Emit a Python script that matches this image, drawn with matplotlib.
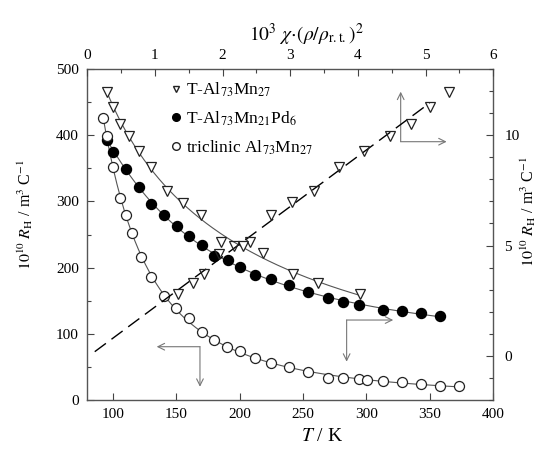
import numpy as np
import matplotlib.pyplot as plt
from matplotlib.lines import Line2D
from matplotlib.ticker import MultipleLocator

plt.rcParams['font.family'] = ['Liberation Serif', 'DejaVu Serif']
plt.rcParams['mathtext.fontset'] = 'stix'
plt.rcParams['font.size'] = 11

# T-Al73Mn27: R_H vs T (bottom / left axes)
t_tal = [95.8, 100.5, 105.8, 112.9, 120.7, 130.0, 142.6, 155.6, 169.4,
         185.4, 202.5, 218.7, 241.9, 262.0, 294.9]
r_tal = [465.7, 443.0, 416.5, 398.8, 376.6, 352.4, 315.7, 298.0, 279.5,
         239.1, 233.1, 221.6, 190.3, 176.3, 159.7]

# T-Al73Mn27: R_H vs chi*(rho/rho_rt)^2 (top / right axes)
chi_tal = [5.35, 5.07, 4.78, 4.47, 4.09, 3.72, 3.35, 3.02, 2.71,
           2.41, 2.17, 1.94, 1.73, 1.56, 1.34]
rr_tal = [11.97, 11.29, 10.49, 9.96, 9.30, 8.57, 7.48, 6.98, 6.38,
          5.17, 4.99, 4.62, 3.70, 3.29, 2.80]
fit_chi = [0.11, 5.06]
fit_rr = [0.19, 11.46]

# T-Al73Mn21Pd6
t_pd = [95.8, 100.5, 110.5, 120.7, 130.0, 140.4, 150.4, 160.4, 170.2,
        180.1, 190.6, 200.3, 212.2, 224.5, 238.9, 253.9, 269.9, 281.7,
        294.1, 313.3, 328.2, 343.0, 357.9]
r_pd = [392.7, 375.1, 348.5, 322.2, 295.6, 279.5, 263.3, 247.7, 234.1,
        217.5, 211.5, 200.5, 188.8, 182.8, 173.7, 162.7, 154.5, 147.6,
        143.5, 136.0, 134.4, 131.9, 126.9]

# triclinic Al73Mn27
t_tri = [92.1, 95.8, 100.5, 105.8, 110.5, 115.0, 122.3, 130.0, 140.4,
         149.9, 160.1, 170.2, 179.8, 189.8, 200.3, 212.2, 224.5, 238.9,
         253.9, 269.9, 281.7, 294.1, 300.2, 313.3, 328.2, 343.0, 357.9, 372.9]
r_tri = [425.5, 398.8, 352.4, 305.6, 279.5, 252.7, 216.0, 185.3, 157.1,
         138.5, 123.4, 103.2, 90.6, 80.5, 74.0, 63.0, 56.3, 50.3,
         42.7, 33.7, 33.7, 31.7, 29.8, 28.7, 26.7, 24.2, 20.7, 21.6]


def smooth(t, r, deg=3):
    t = np.asarray(t)
    c = np.polyfit(1.0 / t, r, deg)
    tt = np.linspace(t.min(), t.max(), 200)
    return tt, np.polyval(c, 1.0 / tt)


fig = plt.figure(figsize=(5.46, 4.54), dpi=100)
rect = [87.3 / 546, 54 / 454, 406 / 546, 331 / 454]
ax = fig.add_axes(rect)
ax2 = fig.add_axes(rect, frameon=False)

edge = '#222222'
line_c = '#555555'

for t, r in [(t_tal, r_tal), (t_pd, r_pd), (t_tri, r_tri)]:
    tt, rr = smooth(t, r)
    ax.plot(tt, rr, color=line_c, lw=0.8, zorder=2)

ax.plot(t_tal, r_tal, ls='none', marker='v', ms=6.8, mfc='white',
        mec=edge, mew=0.9, zorder=3)
ax.plot(t_pd, r_pd, ls='none', marker='o', ms=7.2, mfc='black',
        mec='black', zorder=3)
ax.plot(t_tri, r_tri, ls='none', marker='o', ms=7.2, mfc='white',
        mec=edge, mew=0.9, zorder=3)

ax2.plot(fit_chi, fit_rr, color='black', lw=1.0, dashes=(10, 5), zorder=2)
ax2.plot(chi_tal, rr_tal, ls='none', marker='v', ms=6.8, mfc='none',
         mec=edge, mew=0.9, zorder=3)

# main axes
ax.set_xlim(80, 400)
ax.set_ylim(0, 500)
ax.set_xticks([100, 150, 200, 250, 300, 350, 400])
ax.yaxis.set_major_locator(MultipleLocator(100))
ax.yaxis.set_minor_locator(MultipleLocator(50))
ax.tick_params(direction='in', length=5, width=0.8, color='#444444',
               pad=6, labelsize=11)
ax.tick_params(which='minor', direction='in', length=3, width=0.8,
               color='#444444')
for s in ax.spines.values():
    s.set_color('#555555')
    s.set_linewidth(1.0)
ax.set_xlabel(r'$T$ / K', fontsize=14, labelpad=2)
ax.xaxis.set_label_coords(0.578, -0.085)
ax.set_ylabel(r'$10^{10}\ R_{\rm H}$ / m$^3$ C$^{-1}$', fontsize=11.5)
ax.yaxis.set_label_coords(-0.13, 0.56)

# secondary axes (top / right)
ax2.set_xlim(0, 6)
ax2.set_ylim(-2, 13)
ax2.xaxis.tick_top()
ax2.xaxis.set_label_position('top')
ax2.yaxis.tick_right()
ax2.yaxis.set_label_position('right')
ax2.xaxis.set_major_locator(MultipleLocator(1))
ax2.xaxis.set_minor_locator(MultipleLocator(0.5))
ax2.yaxis.set_major_locator(MultipleLocator(5))
ax2.yaxis.set_minor_locator(MultipleLocator(1))
ax2.tick_params(direction='in', length=5, width=0.8, color='#444444',
                labelsize=11)
ax2.tick_params(axis='x', pad=5)
ax2.tick_params(axis='y', pad=8)
ax2.tick_params(which='minor', direction='in', length=3, width=0.8,
                color='#444444')
ax2.set_xlabel(r'$10^3\ \chi\!\cdot\!(\rho/\rho_{\rm r.t.})^2$', fontsize=14)
ax2.xaxis.set_label_coords(0.54, 1.085)
ax2.set_ylabel(r'$10^{10}\ R_{\rm H}$ / m$^3$ C$^{-1}$', fontsize=11.5)
ax2.yaxis.set_label_coords(1.063, 0.57)

# arrows showing which axes each set belongs to
arr = dict(arrowstyle='->', color='#777777', lw=0.8,
           shrinkA=0, shrinkB=0, mutation_scale=12)
ax.annotate('', xy=(134.7, 80.5), xytext=(168.8, 80.5), arrowprops=arr)
ax.annotate('', xy=(168.8, 20), xytext=(168.8, 80.5), arrowprops=arr)
ax.annotate('', xy=(321.1, 120.8), xytext=(284.4, 120.8), arrowprops=arr)
ax.annotate('', xy=(284.4, 57.9), xytext=(284.4, 120.8), arrowprops=arr)
ax.annotate('', xy=(327.0, 465.7), xytext=(327.0, 390.2), arrowprops=arr)
ax.annotate('', xy=(363.2, 390.2), xytext=(327.0, 390.2), arrowprops=arr)

# legend
handles = [
    Line2D([], [], ls='none', marker='v', ms=5, mfc='white', mec=edge),
    Line2D([], [], ls='none', marker='o', ms=5.5, mfc='black', mec='black'),
    Line2D([], [], ls='none', marker='o', ms=5.5, mfc='white', mec=edge),
]
labels = [r'T-Al$_{73}$Mn$_{27}$', r'T-Al$_{73}$Mn$_{21}$Pd$_6$',
          r'triclinic Al$_{73}$Mn$_{27}$']
ax.legend(handles, labels, loc='upper left', bbox_to_anchor=(0.205, 0.965),
          frameon=False, fontsize=12.5, handlelength=0.6, handletextpad=0.3,
          labelspacing=0.6, borderpad=0, borderaxespad=0)

fig.savefig('out.png', dpi=100)
